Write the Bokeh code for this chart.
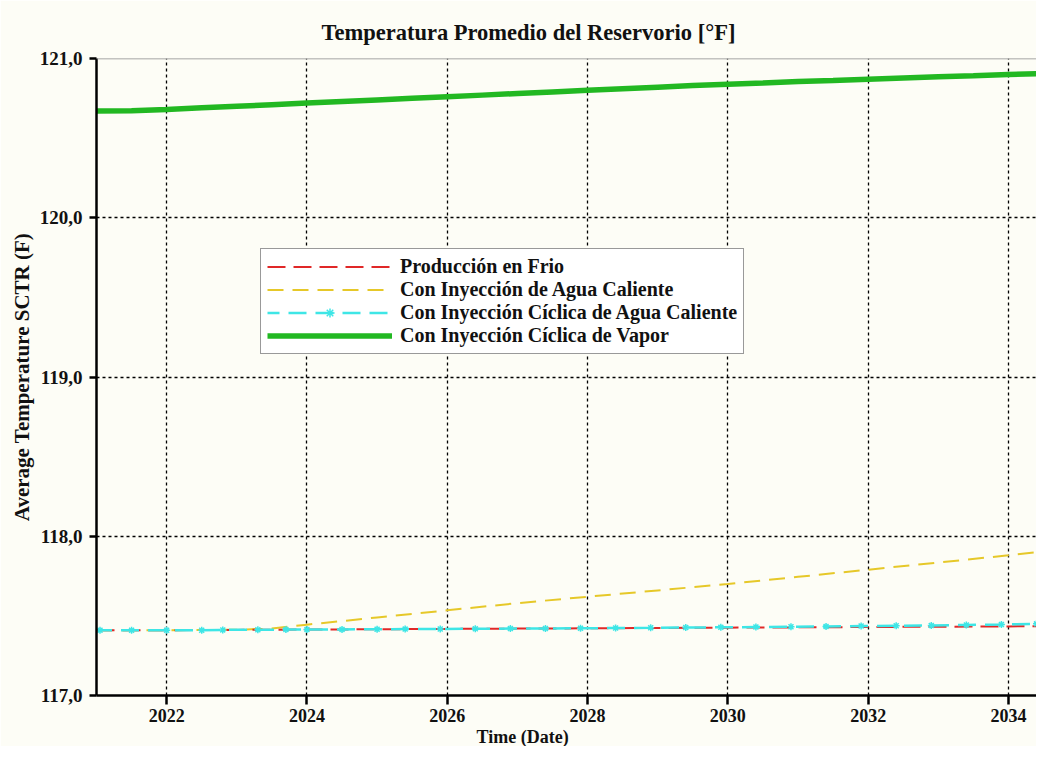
from bokeh.plotting import figure
from bokeh.models import FixedTicker, Legend, LegendItem, Span, Title
from bokeh.embed import file_html
from bokeh.resources import INLINE

# ---- data ----
title_text = "Temperatura Promedio del Reservorio [°F]"
x_label = "Time (Date)"
y_label = "Average Temperature SCTR (F)"

x_ticks = [2022, 2024, 2026, 2028, 2030, 2032, 2034]
y_ticks = [117, 118, 119, 120, 121]
y_tick_labels = ["117,0", "118,0", "119,0", "120,0", "121,0"]

series_names = ["Producción en Frio",
                "Con Inyección de Agua Caliente",
                "Con Inyección Cíclica de Agua Caliente",
                "Con Inyección Cíclica de Vapor"]

cold_years = [2021.0, 2022, 2023, 2024, 2025, 2026, 2027, 2028, 2029, 2030,
              2031, 2032, 2033, 2034, 2034.5]
cold_temp = [117.41, 117.41, 117.412, 117.414, 117.416, 117.418, 117.42, 117.422,
             117.424, 117.426, 117.428, 117.43, 117.432, 117.434, 117.435]

hot_years = [2021.0, 2022, 2023, 2023.5, 2024, 2025, 2026, 2027, 2028, 2029,
             2030, 2031, 2032, 2033, 2034, 2034.5]
hot_temp = [117.41, 117.41, 117.413, 117.42, 117.445, 117.49, 117.535, 117.58,
            117.62, 117.66, 117.70, 117.745, 117.79, 117.835, 117.88, 117.905]

cyc_years = [2021.05, 2021.5, 2022.0, 2022.5, 2022.8, 2023.3, 2023.7, 2024.0,
             2024.5, 2025.0, 2025.4, 2025.9, 2026.4, 2026.9, 2027.4, 2027.9,
             2028.4, 2028.9, 2029.4, 2029.9, 2030.4, 2030.9, 2031.4, 2031.9,
             2032.4, 2032.9, 2033.4, 2033.9, 2034.4]
cyc_temp = [117.41, 117.41, 117.41, 117.41, 117.412, 117.413, 117.414, 117.415,
            117.415, 117.416, 117.417, 117.418, 117.419, 117.42, 117.421, 117.422,
            117.424, 117.425, 117.427, 117.428, 117.43, 117.432, 117.434, 117.436,
            117.438, 117.44, 117.443, 117.446, 117.45]

steam_years = [2021.0, 2021.5, 2022, 2022.5, 2023, 2023.5, 2024, 2024.5, 2025,
               2025.5, 2026, 2026.5, 2027, 2027.5, 2028, 2028.5, 2029, 2029.5,
               2030, 2030.5, 2031, 2031.5, 2032, 2032.5, 2033, 2033.5, 2034, 2034.5]
steam_temp = [120.67, 120.672, 120.68, 120.69, 120.70, 120.71, 120.72, 120.73,
              120.74, 120.75, 120.76, 120.77, 120.78, 120.79, 120.80, 120.81,
              120.82, 120.83, 120.838, 120.846, 120.855, 120.862, 120.87, 120.878,
              120.885, 120.892, 120.90, 120.905]

colors = ["#e02828", "#e6c829", "#3ee6e6", "#22b822"]

# ---- figure ----
BG = "#fdfdf6"
FONT = "Liberation Serif"
INK = "#111111"

p = figure(width=1036, height=746, output_backend="svg", toolbar_location=None,
           x_range=(2021.0, 2034.4), y_range=(117.0, 121.0),
           min_border_left=96, min_border_right=0, min_border_top=58,
           min_border_bottom=47, background_fill_color=BG, border_fill_color=BG,
           outline_line_color=None)

r_steam = p.line(steam_years, steam_temp, line_color=colors[3], line_width=5.5)
r_hot = p.line(hot_years, hot_temp, line_color=colors[1], line_width=2,
               line_dash="16 9")
r_cold = p.line(cold_years, cold_temp, line_color=colors[0], line_width=2,
                line_dash="18 8")
r_cyc = p.line(cyc_years, cyc_temp, line_color=colors[2], line_width=2.5,
               line_dash="18 9", line_dash_offset=6)
r_cyc_m = p.scatter(cyc_years, cyc_temp, marker="asterisk", size=7,
                    line_color=colors[2], line_width=1.5)

# grid
p.xgrid.ticker = FixedTicker(ticks=x_ticks)
p.ygrid.ticker = FixedTicker(ticks=[118, 119, 120])
for g in (p.xgrid, p.ygrid):
    g.grid_line_color = "black"
    g.grid_line_dash = "3 3"
    g.grid_line_width = 1.3

p.add_layout(Span(location=121.0, dimension="width", line_color="#888888",
                  line_width=1.5))

# axes
p.xaxis.ticker = FixedTicker(ticks=x_ticks)
p.yaxis.ticker = FixedTicker(ticks=y_ticks)
p.yaxis.major_label_overrides = {t: l for t, l in zip(y_ticks, y_tick_labels)}
for ax in (p.xaxis[0], p.yaxis[0]):
    ax.axis_line_color = "black"
    ax.axis_line_width = 2.5
    ax.major_tick_line_color = "black"
    ax.major_tick_line_width = 2.5
    ax.major_tick_in = 0
    ax.minor_tick_line_color = None
    ax.major_label_text_font = FONT
    ax.major_label_text_font_style = "bold"
    ax.major_label_text_color = INK
p.xaxis.major_tick_out = 9
p.xaxis.major_label_standoff = 4
p.xaxis.major_label_text_font_size = "18px"
p.yaxis.major_tick_out = 7
p.yaxis.major_label_standoff = 7
p.yaxis.major_label_text_font_size = "19px"

p.yaxis.axis_label = y_label
p.yaxis.axis_label_text_font = FONT
p.yaxis.axis_label_text_font_style = "bold"
p.yaxis.axis_label_text_font_size = "21px"
p.yaxis.axis_label_text_color = INK
p.yaxis.axis_label_standoff = 3

# title and x label (left aligned with offsets, as in the wider original)
p.add_layout(Title(text=title_text, align="left", offset=225, standoff=28,
                   text_font=FONT, text_font_style="bold",
                   text_font_size="22.5px", text_color=INK), "above")
p.add_layout(Title(text=x_label, align="left", offset=380, standoff=0,
                   text_font=FONT, text_font_style="bold",
                   text_font_size="18px", text_color=INK), "below")

# legend
legend = Legend(items=[
    LegendItem(label=series_names[0], renderers=[r_cold]),
    LegendItem(label=series_names[1], renderers=[r_hot]),
    LegendItem(label=series_names[2], renderers=[r_cyc, r_cyc_m]),
    LegendItem(label=series_names[3], renderers=[r_steam]),
], location=(164, 341))
legend.glyph_width = 125
legend.glyph_height = 23
legend.label_height = 23
legend.spacing = 0
legend.padding = 6
legend.margin = 0
legend.label_standoff = 8
legend.label_text_font = FONT
legend.label_text_font_style = "bold"
legend.label_text_font_size = "20px"
legend.label_text_color = INK
legend.border_line_color = "#333333"
legend.border_line_width = 1.5
legend.background_fill_color = "white"
legend.background_fill_alpha = 1.0
p.add_layout(legend, "center")

open("out.html", "w").write(file_html(p, INLINE))
